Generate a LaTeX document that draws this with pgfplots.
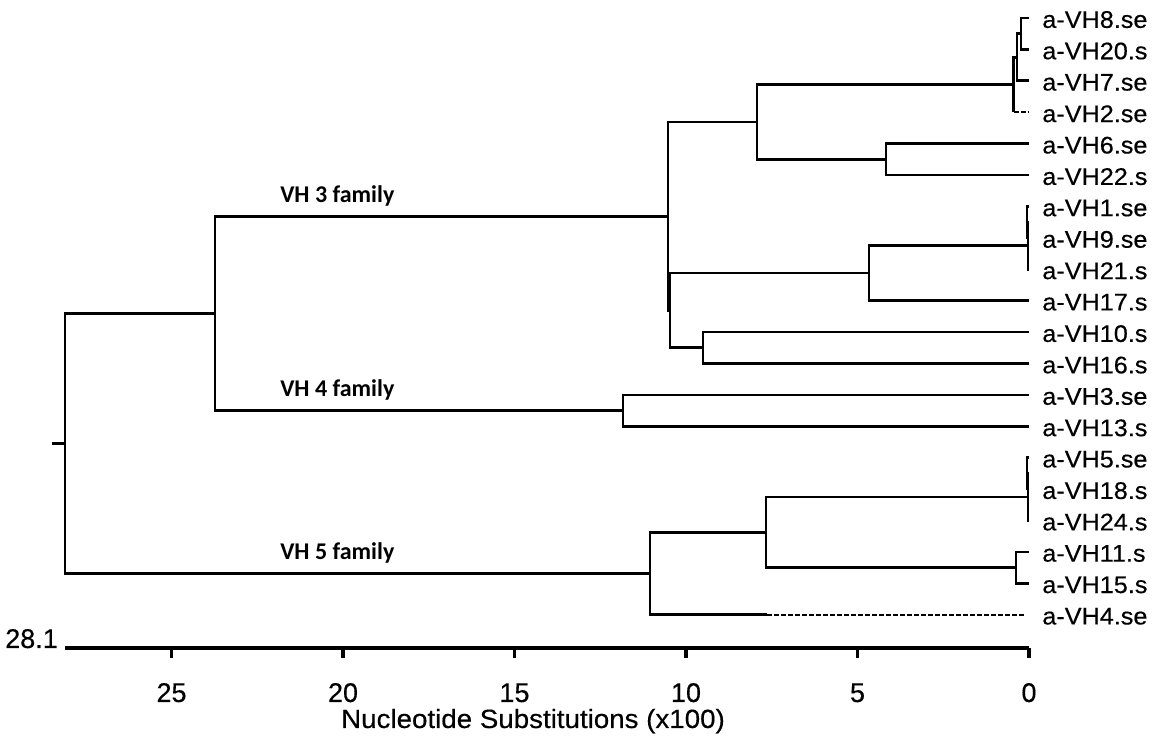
\documentclass[border=0pt]{standalone}
\usepackage{fontspec}
\setmainfont{Liberation Sans}
\newfontfamily\leaffont[FakeStretch=1.05,FakeBold=0.4]{Liberation Sans}
\newfontfamily\labelfont[FakeStretch=1.05,FakeBold=0.4]{Liberation Sans}
\newfontfamily\tickfont[FakeBold=0.4]{Liberation Sans}
\newfontfamily\famfont{Carlito}
\usepackage{pgfplots}
\pgfplotsset{compat=1.18}
\tikzset{
  tree/.style={black, line width=1.3pt, line join=miter},
  dashedleaf/.style={black, line width=1.1pt, dash pattern=on 2.5pt off 1pt},
  leaf/.style={anchor=west, inner sep=0pt, xshift=6.5pt, yshift=-0.8pt, font=\leaffont\fontsize{12}{14}\selectfont},
  fam/.style={anchor=base west, inner sep=0pt, yshift=7pt, font=\famfont\bfseries\fontsize{12}{14}\selectfont},
}
\begin{document}
\begin{tikzpicture}
\begin{axis}[
  scale only axis, width=481.9pt, height=324pt,
  x dir=reverse,
  xmin=0, xmax=28.1, ymin=-21.06, ymax=-0.427,
  axis x line*=bottom, axis y line=none,
  x axis line style={-, line width=1.6pt},
  xtick={0,5,10,15,20,25},
  tick align=outside, major tick length=5pt,
  xtick style={black, line width=1.6pt},
  /pgf/number format/assume math mode=true,
  x tick label style={font=\tickfont\fontsize{13.5}{16}\selectfont, anchor=base, yshift=-22pt},
  clip=false,
]
% VH 3 family, first cluster
\addplot[tree, no markers] coordinates {(0,-1) (0.23,-1) (0.23,-2) (0,-2)};
\addplot[tree, no markers] coordinates {(0.23,-1.5) (0.35,-1.5) (0.35,-3) (0,-3)};
\addplot[tree, no markers] coordinates {(0.35,-2.25) (0.45,-2.25) (0.45,-4)};
\addplot[dashedleaf, no markers] coordinates {(0.45,-4) (0,-4)};
\addplot[tree, no markers] coordinates {(0,-5) (4.17,-5) (4.17,-6) (0,-6)};
\addplot[tree, no markers] coordinates {(0.45,-3.125) (7.93,-3.125) (7.93,-5.5) (4.17,-5.5)};
% VH 3 family, second cluster
\addplot[tree, no markers] coordinates {(0,-7) (0.06,-7) (0.06,-8) (0,-8)};
\addplot[tree, no markers] coordinates {(0.06,-7.5) (0.03,-7.5) (0.03,-9) (0,-9)};
\addplot[tree, no markers] coordinates {(0.03,-8.25) (4.66,-8.25) (4.66,-10) (0,-10)};
\addplot[tree, no markers] coordinates {(0,-11) (9.5,-11) (9.5,-12) (0,-12)};
\addplot[tree, no markers] coordinates {(4.66,-9.125) (10.47,-9.125) (10.47,-11.5) (9.5,-11.5)};
\addplot[tree, no markers] coordinates {(7.93,-4.3125) (10.53,-4.3125) (10.53,-10.3125) (10.47,-10.3125)};
% VH 4 family
\addplot[tree, no markers] coordinates {(0,-13) (11.84,-13) (11.84,-14) (0,-14)};
\addplot[tree, no markers] coordinates {(10.53,-7.3125) (23.73,-7.3125) (23.73,-13.5) (11.84,-13.5)};
% VH 5 family
\addplot[tree, no markers] coordinates {(0,-15) (0.06,-15) (0.06,-16) (0,-16)};
\addplot[tree, no markers] coordinates {(0.06,-15.5) (0.03,-15.5) (0.03,-17) (0,-17)};
\addplot[tree, no markers] coordinates {(0,-18) (0.38,-18) (0.38,-19) (0,-19)};
\addplot[tree, no markers] coordinates {(0.03,-16.25) (7.67,-16.25) (7.67,-18.5) (0.38,-18.5)};
\addplot[tree, no markers] coordinates {(7.67,-17.375) (11.05,-17.375) (11.05,-20) (7.64,-20)};
\addplot[dashedleaf, no markers] coordinates {(7.64,-20) (0.1,-20)};
% root
\addplot[tree, no markers] coordinates {(23.73,-10.40625) (28.1,-10.40625) (28.1,-18.6875) (11.05,-18.6875)};
\addplot[tree, no markers] coordinates {(28.1,-14.547) (28.48,-14.547)};

% leaf names
\node[leaf] at (axis cs:0,-1) {a-VH8.se};
\node[leaf] at (axis cs:0,-2) {a-VH20.s};
\node[leaf] at (axis cs:0,-3) {a-VH7.se};
\node[leaf] at (axis cs:0,-4) {a-VH2.se};
\node[leaf] at (axis cs:0,-5) {a-VH6.se};
\node[leaf] at (axis cs:0,-6) {a-VH22.s};
\node[leaf] at (axis cs:0,-7) {a-VH1.se};
\node[leaf] at (axis cs:0,-8) {a-VH9.se};
\node[leaf] at (axis cs:0,-9) {a-VH21.s};
\node[leaf] at (axis cs:0,-10) {a-VH17.s};
\node[leaf] at (axis cs:0,-11) {a-VH10.s};
\node[leaf] at (axis cs:0,-12) {a-VH16.s};
\node[leaf] at (axis cs:0,-13) {a-VH3.se};
\node[leaf] at (axis cs:0,-14) {a-VH13.s};
\node[leaf] at (axis cs:0,-15) {a-VH5.se};
\node[leaf] at (axis cs:0,-16) {a-VH18.s};
\node[leaf] at (axis cs:0,-17) {a-VH24.s};
\node[leaf] at (axis cs:0,-18) {a-VH11.s};
\node[leaf] at (axis cs:0,-19) {a-VH15.s};
\node[leaf] at (axis cs:0,-20) {a-VH4.se};

% family names
\node[fam] at (axis cs:21.84,-7.3125) {VH 3 family};
\node[fam] at (axis cs:21.84,-13.5) {VH 4 family};
\node[fam] at (axis cs:21.84,-18.6875) {VH 5 family};

% scale annotations
\node[anchor=base east, inner sep=0pt, xshift=-3.5pt, font=\tickfont\fontsize{13.5}{16}\selectfont] at (axis cs:28.1,-21.06) {28.1};
\node[anchor=base, inner sep=0pt, yshift=-40pt, font=\labelfont\fontsize{13.2}{15}\selectfont] at (axis cs:14.46,-21.06) {Nucleotide Substitutions (x100)};
\end{axis}
\pgfresetboundingbox
\path[use as bounding box] ([xshift=-32.6pt,yshift=-45pt]current axis.south west) rectangle ([xshift=62.5pt]current axis.north east);
\end{tikzpicture}
\end{document}
